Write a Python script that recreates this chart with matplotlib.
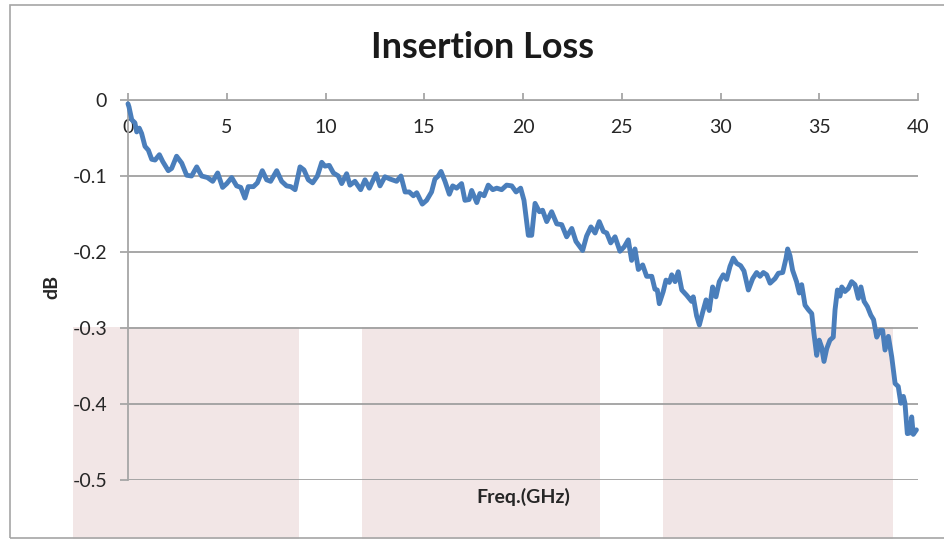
import matplotlib.pyplot as plt
from matplotlib.patches import Rectangle

plt.rcParams['font.family'] = ['Lato', 'DejaVu Sans']

# frequency (GHz) and insertion loss (dB)
freq = [0.0, 0.05, 0.19, 0.35, 0.44, 0.57, 0.69, 0.86, 1.03, 1.2, 1.37, 1.59, 1.76,
        2.04, 2.21, 2.46, 2.72, 2.97, 3.22, 3.48, 3.73, 4.02, 4.29, 4.54, 4.79,
        5.0, 5.25, 5.5, 5.71, 5.92, 6.09, 6.35, 6.55, 6.8, 7.02, 7.22, 7.53, 7.78,
        8.03, 8.24, 8.46, 8.71, 8.91, 9.13, 9.35, 9.59, 9.81, 9.97, 10.19, 10.4,
        10.65, 10.82, 11.07, 11.24, 11.49, 11.78, 12.0, 12.22, 12.56, 12.76, 13.01,
        13.27, 13.6, 13.82,
        14.03, 14.24, 14.45, 14.62, 14.9, 15.12, 15.37, 15.54, 15.71, 15.85, 16.05,
        16.27, 16.44, 16.64, 16.89, 17.06, 17.27, 17.4, 17.66, 17.82, 18.03, 18.24,
        18.47, 18.67, 18.92, 19.17, 19.43, 19.65, 19.88, 20.05, 20.27, 20.44, 20.61,
        20.83, 20.99, 21.2, 21.45, 21.71, 21.96, 22.21, 22.47, 22.68, 23.02, 23.22,
        23.44, 23.65, 23.86, 24.07, 24.24, 24.44, 24.66, 24.91, 25.13, 25.33, 25.5,
        25.67, 25.84, 26.06, 26.26, 26.52, 26.68, 26.8, 26.9,
        27.1, 27.24, 27.41, 27.53, 27.7, 27.86, 28.04, 28.29, 28.54, 28.62, 28.79,
        28.93, 29.1, 29.27, 29.43, 29.6, 29.77, 29.94, 30.14, 30.31, 30.48, 30.65,
        30.82, 31.02, 31.19, 31.41, 31.63, 31.83, 32.0, 32.17, 32.34, 32.51, 32.76,
        32.93, 33.15, 33.32, 33.4, 33.52, 33.65, 33.85, 33.99, 34.11, 34.28, 34.45,
        34.62, 34.73, 34.87, 35.0, 35.12, 35.24, 35.38, 35.54, 35.71, 35.8, 35.92,
        36.05, 36.14, 36.3, 36.47, 36.64, 36.81, 36.98, 37.11, 37.27, 37.44, 37.61,
        37.75, 37.91, 38.08, 38.21, 38.33, 38.5, 38.67, 38.84, 39.0, 39.13, 39.26,
        39.34, 39.46, 39.6, 39.68, 39.76, 39.92]
loss = [-0.005, -0.009, -0.026, -0.030, -0.042, -0.037, -0.044, -0.061, -0.066, -0.078,
        -0.079, -0.072, -0.081, -0.093, -0.090, -0.074, -0.083, -0.099, -0.100, -0.088,
        -0.100, -0.102, -0.107, -0.096, -0.115, -0.110, -0.102, -0.113, -0.115, -0.129,
        -0.114, -0.114, -0.109, -0.093, -0.105, -0.107, -0.093, -0.107, -0.113, -0.114,
        -0.118, -0.088, -0.092, -0.105, -0.109, -0.100, -0.082, -0.087, -0.086, -0.096,
        -0.100, -0.110, -0.097, -0.112, -0.107, -0.118, -0.105, -0.116, -0.097, -0.113,
        -0.101, -0.104, -0.107, -0.100,
        -0.121, -0.121, -0.126, -0.122, -0.137, -0.132, -0.121, -0.104, -0.100, -0.094,
        -0.107, -0.124, -0.113, -0.116, -0.110, -0.132, -0.131, -0.119, -0.135, -0.123,
        -0.126, -0.112, -0.118, -0.116, -0.118, -0.112, -0.113, -0.121, -0.116, -0.132,
        -0.178, -0.178, -0.136, -0.147, -0.145, -0.160, -0.147, -0.163, -0.164, -0.180,
        -0.169, -0.186, -0.198, -0.179, -0.167, -0.175, -0.160, -0.173, -0.175, -0.188,
        -0.180, -0.199, -0.193, -0.184, -0.211, -0.196, -0.223, -0.217, -0.232, -0.232,
        -0.249, -0.250, -0.268,
        -0.252, -0.237, -0.240, -0.230, -0.239, -0.226, -0.250, -0.257, -0.265, -0.259,
        -0.284, -0.296, -0.279, -0.263, -0.277, -0.246, -0.259, -0.239, -0.230, -0.236,
        -0.219, -0.208, -0.215, -0.218, -0.225, -0.250, -0.235, -0.227, -0.232, -0.227,
        -0.230, -0.241, -0.235, -0.228, -0.227, -0.208, -0.196, -0.205, -0.224, -0.239,
        -0.254, -0.243, -0.270, -0.276, -0.281, -0.307, -0.336, -0.316, -0.325, -0.344,
        -0.327, -0.316, -0.312, -0.276, -0.250, -0.258, -0.246, -0.252, -0.248, -0.239,
        -0.243, -0.261, -0.246, -0.265, -0.272, -0.283, -0.289, -0.312, -0.303, -0.303,
        -0.329, -0.311, -0.338, -0.373, -0.377, -0.399, -0.390, -0.399, -0.439, -0.438,
        -0.417, -0.440, -0.434]

xticks = [0, 5, 10, 15, 20, 25, 30, 35, 40]
yticks = [0, -0.1, -0.2, -0.3, -0.4, -0.5]
ytick_labels = ['0', '-0.1', '-0.2', '-0.3', '-0.4', '-0.5']

W, H = 945, 539
fig = plt.figure(figsize=(W / 100, H / 100), dpi=100)
ax = fig.add_axes([128 / W, 1 - 480 / H, (918 - 128) / W, (480 - 100) / H])
ax.set_facecolor('none')

# pink bands behind the chart
for x0, x1 in [(73, 299), (362, 600), (663, 893)]:
    fig.add_artist(Rectangle((x0 / W, 0), (x1 - x0) / W, 1 - 327 / H,
                             transform=fig.transFigure, facecolor='#f2e6e6',
                             edgecolor='none', zorder=-2))
# chart border
fig.add_artist(Rectangle((10 / W, 1 / H), 1.05, (538 - 5) / H, transform=fig.transFigure,
                         facecolor='none', edgecolor='#a6a6a6', lw=1.2, zorder=-1))

ax.plot(freq, loss, color='#4a7ebb', lw=3.5, solid_joinstyle='round',
        solid_capstyle='round', zorder=3, clip_on=False)

ax.set_xlim(0, 40)
ax.set_ylim(-0.5, 0)
ax.set_yticks(yticks)
ax.set_yticklabels(ytick_labels)
ax.set_xticks(xticks)
ax.grid(axis='y', color='#a0a0a0', lw=1.3)
ax.set_axisbelow(True)

for s in ['bottom', 'right']:
    ax.spines[s].set_visible(False)
for s in ['top', 'left']:
    ax.spines[s].set_color('#a6a6a6')
    ax.spines[s].set_linewidth(1.3)

ax.tick_params(axis='y', length=6, width=1.3, color='#a6a6a6', pad=9,
               labelsize=14, labelcolor='#262626')
ax.tick_params(axis='x', bottom=False, labelbottom=False, top=True, labeltop=True,
               length=5, width=1.3, color='#a6a6a6', pad=-31,
               labelsize=14, labelcolor='#262626')

fig.text(483 / W, 1 - 48 / H, 'Insertion Loss', ha='center', va='center',
         fontsize=26, fontweight='bold', color='#1a1a1a')
fig.text(523 / W, 1 - 497 / H, 'Freq.(GHz)', ha='center', va='center',
         fontsize=14, fontweight='bold', color='#262626')
fig.text(52 / W, 1 - 287 / H, 'dB', ha='center', va='center', rotation=90,
         fontsize=14, fontweight='bold', color='#262626')

fig.savefig('out.png', dpi=100)
